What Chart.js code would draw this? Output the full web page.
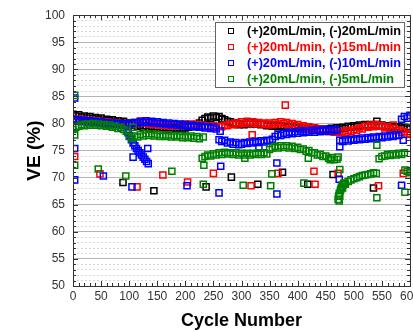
<!DOCTYPE html>
<html>
<head>
<meta charset="utf-8">
<script src="https://cdn.jsdelivr.net/npm/chart.js@4/dist/chart.umd.min.js"></script>
<style>
  html, body { margin: 0; padding: 0; background: #fff; overflow: hidden; }
  #wrap { position: absolute; left: 0; top: 0; width: 425px; height: 332px; }
</style>
</head>
<body>
<div id="wrap"><canvas id="veChart" width="425" height="332"></canvas></div>
<script>
// ---- data ----
// main bands: one value every 5 cycles, cycle 0 .. 600
const cycleStep = 5;

const blackVE = [
  81.7, 81.4, 81.6, 81.2, 81.4, 81.0, 81.3, 80.9, 81.1, 80.8,
  81.0, 80.6, 80.8, 80.5, 80.7, 80.3, 80.5, 80.2, 80.4, 80.0,
  80.1, 79.7, 79.9, 79.5, 79.7, 79.3, 79.6, 79.2, 79.5, 79.1,
  79.4, 79.1, 79.3, 79.0, 79.3, 79.0, 79.2, 79.0, 79.2, 78.9,
  79.2, 79.3, 79.5, 79.4, 79.8, 80.1, 80.6, 80.9, 81.2, 81.0,
  81.4, 81.1, 81.3, 80.9, 80.7, 80.4, 80.3, 80.0, 80.1, 79.8,
  80.0, 79.8, 80.1, 79.9, 80.2, 79.9, 80.1, 79.8, 79.9, 79.6,
  79.8, 79.5, 79.7, 79.4, 79.6, 79.3, 79.5, 79.2, 79.4, 79.1,
  79.3, 79.0, 79.3, 79.0, 79.2, 78.9, 79.1, 78.8, 79.0, 78.8,
  79.0, 78.8, 79.1, 78.9, 79.2, 79.0, 79.3, 79.1, 79.5, 79.3,
  79.6, 79.4, 79.7, 79.5, 79.8, 79.6, 79.8, 79.5, 79.8, 79.5,
  79.7, 79.4, 79.6, 79.3, 79.5, 79.2, 79.4, 79.1, 79.3, 79.0,
  79.2
];
const redVE = [
  80.9, 80.6, 80.8, 80.5, 80.7, 80.4, 80.6, 80.3, 80.5, 80.2,
  80.4, 80.1, 80.3, 80.0, 80.2, 79.9, 80.1, 79.8, 80.0, 79.7,
  79.9, 79.8, 80.2, 80.0, 80.4, 80.1, 80.3, 79.9, 80.1, 79.8,
  80.0, 79.7, 79.9, 79.6, 79.8, 79.5, 79.8, 79.5, 79.8, 79.6,
  79.9, 79.6, 79.9, 79.6, 79.8, 79.5, 79.7, 79.4, 79.6, 79.3,
  79.6, 79.3, 79.5, 79.4, 79.7, 79.6, 79.9, 79.8, 80.1, 79.9,
  80.3, 80.0, 80.4, 80.1, 80.3, 80.0, 80.2, 79.9, 80.1, 79.8,
  80.1, 79.8, 80.2, 79.9, 80.3, 80.0, 80.2, 79.8, 80.0, 79.6,
  79.8, 79.4, 79.6, 79.2, 79.4, 79.0, 79.2, 78.8, 79.0, 78.6,
  78.8, 78.5, 78.7, 78.4, 78.6, 78.3, 78.6, 78.3, 78.7, 78.5,
  78.9, 78.7, 79.2, 79.0, 79.5, 79.3, 79.7, 79.4, 79.8, 79.5,
  79.6, 79.2, 79.4, 79.0, 79.1, 78.7, 78.8, 78.4, 78.5, 78.0,
  78.2
];
const blueVE = [
  80.8, 80.5, 80.7, 80.4, 80.6, 80.3, 80.5, 80.2, 80.4, 80.1,
  80.3, 80.0, 80.2, 79.9, 80.1, 79.8, 80.0, 79.7, 80.0, 79.7,
  79.9, 80.0, 80.2, 80.1, 80.4, 80.2, 80.5, 80.2, 80.4, 80.1,
  80.3, 80.0, 80.2, 79.9, 80.1, 79.8, 80.0, 79.7, 79.9, 79.6,
  79.8, 79.5, 79.7, 79.4, 79.6, 79.3, 79.5, 79.2, 79.4, 79.1,
  79.3, 79.0, 77.0, 76.7, 76.9, 76.4, 76.6, 76.2, 76.5, 76.1,
  76.2, 76.5, 76.3, 76.6, 76.4, 76.7, 76.5, 76.8, 76.6, 76.9,
  76.8, 77.1, 77.6, 78.0, 77.8, 78.2, 78.0, 78.4, 78.1, 78.5,
  78.2, 78.6, 78.3, 78.6, 78.4, 78.7, 78.4, 78.8, 78.5, 78.8,
  78.6, 78.9, 78.6, 78.9, 78.7, 76.9, 76.7, 77.0, 76.8, 77.1,
  76.9, 77.2, 77.0, 77.3, 77.1, 77.4, 77.2, 77.5, 77.3, 77.6,
  77.4, 77.7, 77.5, 77.8, 77.6, 77.9, 77.8, 80.8, 81.3, 81.0,
  81.5
];
const greenVE = [
  78.9, 79.3, 79.5, 79.8, 79.6, 79.9, 79.7, 80.0, 79.7, 79.9,
  79.6, 79.8, 79.5, 79.7, 79.3, 79.5, 79.1, 79.3, 78.9, 78.6,
  77.6, 77.2, 77.7, 77.5, 78.0, 77.7, 78.1, 77.8, 78.1, 77.7,
  78.0, 77.6, 77.9, 77.6, 77.9, 77.5, 77.8, 77.5, 77.8, 77.4,
  77.7, 77.4, 77.7, 77.3, 77.6, 77.2, 73.6, 73.9, 74.2, 74.0,
  74.4, 74.2, 74.6, 74.3, 74.7, 74.4, 74.6, 74.3, 74.6, 74.2,
  74.5, 74.2, 74.5, 74.2, 74.5, 74.3, 74.6, 74.3, 74.6, 74.4,
  75.2, 75.5, 75.8, 75.5, 75.9, 75.6, 75.9, 75.5, 75.8, 75.4,
  75.6, 75.2, 75.3, 74.9, 75.0, 74.6, 74.6, 74.2, 74.3, 73.9,
  74.0, 73.6, 73.7, 73.3, 73.4, 66.6, 68.1, 68.8, 69.3, 69.6,
  69.8, 70.0, 70.2, 70.4, 70.5, 70.6, 70.7, 70.9, 70.8, 73.5,
  73.9, 74.0, 74.3, 74.1, 74.4, 74.2, 74.5, 74.3, 74.6, 71.2,
  70.9
];

// extra branches of the dense bands
const blueDipCycles = [98, 101, 104, 107, 110, 113, 116, 119, 122, 125, 128, 131, 134];
const blueDipVE     = [78.3, 77.8, 77.0, 76.4, 75.9, 75.4, 75.0, 74.6, 74.2, 73.8, 73.4, 73.0, 72.6];
const greenArcCycles = [472, 473, 474, 476, 477, 478, 479, 481, 482, 483];
const greenArcVE     = [66.0, 66.6, 67.1, 67.6, 67.9, 68.2, 68.4, 68.7, 68.9, 69.0];

// scattered single points
const blackOutCycles = [89, 144, 237, 265, 282, 329, 373, 418, 463, 535, 541];
const blackOutVE     = [69.1, 67.6, 68.3, 80.8, 70.1, 68.8, 71.0, 68.8, 70.6, 68.1, 80.4];
const redOutCycles = [3, 48, 114, 160, 204, 250, 317, 319, 365, 378, 429, 431, 472, 544, 570, 588];
const redOutVE     = [73.9, 70.7, 68.3, 70.5, 69.2, 70.8, 68.5, 77.9, 70.8, 83.4, 71.2, 68.8, 70.8, 68.5, 79.7, 70.8];
const blueOutCycles = [3, 3, 3, 54, 105, 107, 133, 203, 260, 262, 263, 331, 363, 363, 474, 475, 585, 588];
const blueOutVE     = [84.7, 75.4, 69.6, 70.3, 68.3, 73.8, 75.4, 68.5, 67.2, 78.6, 72.1, 75.6, 67.0, 72.7, 69.7, 75.7, 68.6, 76.9];
const greenOutCycles = [3, 3, 3, 45, 94, 107, 176, 232, 232, 233, 303, 306, 352, 354, 411, 419, 458, 472, 475, 474, 541, 541, 591, 591];
const greenOutVE     = [85.2, 77.9, 72.3, 71.6, 70.3, 79.3, 71.2, 68.8, 77.5, 72.3, 68.6, 73.6, 68.5, 70.7, 69.0, 73.6, 73.3, 73.8, 71.5, 65.7, 66.3, 76.0, 67.3, 71.4];

const seriesLabels = [
  "(+)20mL/min, (-)20mL/min",
  "(+)20mL/min, (-)15mL/min",
  "(+)20mL/min, (-)10mL/min",
  "(+)20mL/min, (-)5mL/min"
];
const seriesColors = ["#000000", "#ff0000", "#0000ff", "#008000"];

const xTickValues = [0, 50, 100, 150, 200, 250, 300, 350, 400, 450, 500, 550, 600];
const yTickValues = [50, 55, 60, 65, 70, 75, 80, 85, 90, 95, 100];

// ---- helpers ----
function bandPoints(values) {
  return values.map((v, i) => ({ x: i * cycleStep, y: v }));
}
function pairPoints(cycles, values) {
  return cycles.map((c, i) => ({ x: c, y: values[i] }));
}

const fontFamily = "'Liberation Sans', Arial, sans-serif";

const seriesData = [
  bandPoints(blackVE).concat(pairPoints(blackOutCycles, blackOutVE)),
  bandPoints(redVE).concat(pairPoints(redOutCycles, redOutVE)),
  bandPoints(blueVE).concat(pairPoints(blueDipCycles, blueDipVE), pairPoints(blueOutCycles, blueOutVE)),
  bandPoints(greenVE).concat(pairPoints(greenArcCycles, greenArcVE), pairPoints(greenOutCycles, greenOutVE))
];

// black at the bottom, green on top
const drawOrder = [4, 3, 2, 1];

const datasets = seriesData.map((d, i) => ({
  label: seriesLabels[i],
  data: d,
  showLine: false,
  pointStyle: "rect",
  pointRadius: 4.3,
  pointBorderWidth: 1.5,
  borderColor: seriesColors[i],
  backgroundColor: "rgba(255,255,255,0)",
  order: drawOrder[i]
}));

// frame + inward tick marks on all four sides
const framePlugin = {
  id: "frame",
  afterDraw(chart) {
    const ctx = chart.ctx;
    const a = chart.chartArea;
    const xs = chart.scales.x, ys = chart.scales.y;
    ctx.save();
    ctx.strokeStyle = "#333";
    ctx.lineWidth = 1;
    ctx.beginPath();
    for (let v = 50; v <= 100; v++) {
      const y = Math.round(ys.getPixelForValue(v)) + 0.5;
      const len = v % 5 === 0 ? 5 : 3;
      ctx.moveTo(a.left, y); ctx.lineTo(a.left + len, y);
      ctx.moveTo(a.right, y); ctx.lineTo(a.right - len, y);
    }
    for (let c = 0; c <= 600; c += 10) {
      const x = Math.round(xs.getPixelForValue(c)) + 0.5;
      const len = c % 50 === 0 ? 5 : 3;
      ctx.moveTo(x, a.bottom); ctx.lineTo(x, a.bottom - len);
      ctx.moveTo(x, a.top); ctx.lineTo(x, a.top + len);
    }
    ctx.stroke();
    ctx.strokeRect(Math.round(a.left) + 0.5, Math.round(a.top) + 0.5,
      Math.round(a.right - a.left), Math.round(a.bottom - a.top));
    ctx.restore();
  }
};

// legend box inside the plot, top right
const legendPlugin = {
  id: "boxLegend",
  afterDraw(chart) {
    const ctx = chart.ctx;
    const left = 215, top = 22, w = 189, h = 65;
    ctx.save();
    ctx.fillStyle = "#fff";
    ctx.fillRect(left, top, w, h);
    ctx.strokeStyle = "#666";
    ctx.lineWidth = 1;
    ctx.strokeRect(left + 0.5, top + 0.5, w, h);
    ctx.font = "bold 12.7px " + fontFamily;
    ctx.textBaseline = "middle";
    chart.data.datasets.forEach((ds, i) => {
      const y = top + 9 + i * 16;
      ctx.strokeStyle = ds.borderColor;
      ctx.strokeRect(228.5, y - 2.5, 5, 5);
      ctx.fillStyle = ds.borderColor;
      ctx.fillText(ds.label, 247, y + 0.5);
    });
    ctx.restore();
  }
};

new Chart(document.getElementById("veChart"), {
  type: "scatter",
  data: { datasets: datasets },
  options: {
    responsive: false,
    devicePixelRatio: 1,
    animation: false,
    layout: { padding: { top: 15, right: 15, left: 0, bottom: 0 } },
    plugins: {
      legend: { display: false },
      tooltip: { enabled: false }
    },
    scales: {
      x: {
        type: "linear",
        min: 0,
        max: 600,
        afterBuildTicks: s => { s.ticks = xTickValues.map(v => ({ value: v })); },
        ticks: {
          autoSkip: false,
          maxRotation: 0,
          padding: 3,
          color: "#333",
          font: { family: fontFamily, size: 12 }
        },
        grid: { drawOnChartArea: false, drawTicks: false },
        border: { display: false },
        title: {
          display: true,
          text: "Cycle Number",
          color: "#000",
          font: { family: fontFamily, size: 18, weight: "bold" },
          padding: { top: 0, bottom: 0 }
        },
        afterFit: s => { s.height = 46; }
      },
      y: {
        min: 50,
        max: 100,
        ticks: {
          stepSize: 1,
          autoSkip: false,
          padding: 8,
          color: "#333",
          font: { family: fontFamily, size: 12 },
          callback: v => (yTickValues.includes(v) ? v : "")
        },
        grid: {
          drawTicks: false,
          color: c => (c.tick && c.tick.value % 5 === 0 ? "#b4b4b4" : "#d8d8d8"),
          lineWidth: c => (c.tick && (c.tick.value === 50 || c.tick.value === 100) ? 0 : 1)
        },
        border: {
          display: false,
          dash: c => (c.tick && c.tick.value % 5 !== 0 ? [2, 2] : [])
        },
        title: {
          display: true,
          text: "VE (%)",
          color: "#000",
          font: { family: fontFamily, size: 19, weight: "bold" },
          padding: { top: 23, bottom: 0 }
        },
        afterFit: s => { s.width = 73; }
      }
    }
  },
  plugins: [framePlugin, legendPlugin]
});
</script>
</body>
</html>
